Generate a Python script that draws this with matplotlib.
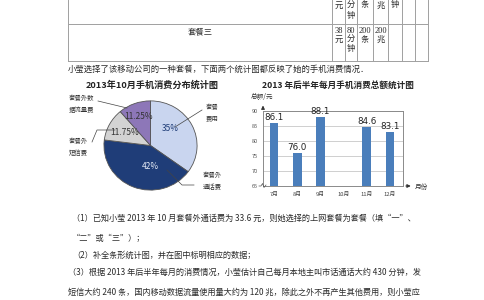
import numpy as np
import matplotlib
matplotlib.use("Agg")
from matplotlib import pyplot as plt
from matplotlib.lines import Line2D

plt.rcParams['font.family'] = ['Noto Sans CJK SC', 'DejaVu Sans']

W, H = 484, 300

# pie chart data
pie_labels = ['套餐\n费用', '套餐外\n通话费', '套餐外\n短信费', '套餐外数\n据流量费']
pie_values = [35, 42, 11.75, 11.25]
pie_pct = ['35%', '42%', '11.75%', '11.25%']
pie_colors = ['#c9d5ef', '#1f3d78', '#d3d3d3', '#8d77b8']

# bar chart data (10月 is left blank in the question)
months = ['7月', '8月', '9月', '10月', '11月', '12月']
totals = [86.1, 76.0, 88.1, np.nan, 84.6, 83.1]
yticks = [65, 70, 75, 80, 85, 90]

# text of the page
row_name = '套餐三'
row_cells = ['38\n元', '80\n分\n钟', '200\n条', '200\n兆']
top_cells = ['元', '分\n钟', '条', '兆']
intro = '小莹选择了该移动公司的一种套餐，下面两个统计图都反映了她的手机消费情况．'
questions = [
    '（1）已知小莹 2013 年 10 月套餐外通话费为 33.6 元，则她选择的上网套餐为套餐（填“一”、',
    '“二”或“三”）；',
    '（2）补全条形统计图，并在图中标明相应的数据；',
    '（3）根据 2013 年后半年每月的消费情况，小莹估计自己每月本地主叫市话通话大约 430 分钟，发',
    '短信大约 240 条，国内移动数据流量使用量大约为 120 兆，除此之外不再产生其他费用，则小莹应',
]


def fx(px):
    return px / W


def fy(py):
    return 1 - py / H


fig = plt.figure(figsize=(4.84, 3.0), dpi=100)
fig.patch.set_facecolor('white')

txt_color = '#2a2a2a'
line_color = '#a0a0a0'

# ---- table fragment at the top ----
for x in [68, 332, 345, 357, 373, 388, 402, 415, 428]:
    fig.add_artist(Line2D([fx(x), fx(x)], [fy(0), fy(61)], color=line_color, lw=0.7))
for y in [24, 61]:
    fig.add_artist(Line2D([fx(68), fx(428)], [fy(y), fy(y)], color=line_color, lw=0.7))

cell_x = [338.5, 351, 365, 380.5]
for cx, t in zip(cell_x, top_cells):
    fig.text(fx(cx), fy(0.5), t, ha='center', va='top', fontsize=6, color=txt_color,
             linespacing=1.15)
fig.text(fx(395), fy(0.5), '钟', ha='center', va='top', fontsize=6, color=txt_color)
for cx, t in zip(cell_x, row_cells):
    fig.text(fx(cx), fy(27), t, ha='center', va='top', fontsize=6, color=txt_color,
             linespacing=1.15, family=['Liberation Serif', 'Noto Sans CJK SC'])
fig.text(fx(200), fy(32), row_name, ha='center', va='center', fontsize=6, color=txt_color)

fig.text(fx(68), fy(69), intro, ha='left', va='center', fontsize=6, color=txt_color)

# ---- pie chart ----
fig.text(fx(152), fy(85), '2013年10月手机消费分布统计图', ha='center', va='center',
         fontsize=6.6, fontweight='bold', color='#222222')

ax1 = fig.add_axes([fx(103), fy(191), fx(198) - fx(103), fy(100) - fy(191)])
wedges, _ = ax1.pie(pie_values, colors=pie_colors, startangle=90, counterclock=False,
                    wedgeprops=dict(edgecolor='#555555', linewidth=0.6))
ax1.set_xlim(-1.02, 1.02)
ax1.set_ylim(-1.02, 1.02)
ax1.set_aspect('auto')
ax1.axis('off')

pct_pos = [(0.42, 0.38), (0.0, -0.48), (-0.55, 0.3), (-0.25, 0.64)]
pct_col = ['#1f3d78', '#e6ecf7', '#333333', '#333333']
for (px, py), t, c in zip(pct_pos, pie_pct, pct_col):
    ax1.text(px, py, t, ha='center', va='center', fontsize=6, color=c)

lab_pos = [(212, 113), (212, 181), (78, 147), (82, 104)]
leaders = [
    [(175, 127), (202, 110)],
    [(167, 170), (182, 185), (194, 185)],
    [(115, 130), (97, 130), (92, 142)],
    [(127, 108), (98, 101)],
]
for (lx, ly), pts, t in zip(lab_pos, leaders, pie_labels):
    fig.text(fx(lx), fy(ly), t, ha='center', va='center', fontsize=4.6, color='#333333',
             linespacing=1.6)
    fig.add_artist(Line2D([fx(p[0]) for p in pts], [fy(p[1]) for p in pts],
                          color='#444444', lw=0.5))

# ---- bar chart ----
fig.text(fx(338), fy(85), '2013 年后半年每月手机消费总额统计图', ha='center', va='center',
         fontsize=6.2, fontweight='bold', color='#222222')

ax2 = fig.add_axes([fx(263), fy(186), fx(403) - fx(263), fy(111) - fy(186)])
xpos = np.arange(len(months))
ax2.bar(xpos, totals, width=0.38, color='#4a7ebb', bottom=0, zorder=3)
for xp, v in zip(xpos, totals):
    if not np.isnan(v):
        ax2.text(xp, v + 0.3, f'{v:.1f}', ha='center', va='bottom', fontsize=6.3,
                 color='#222222', family='DejaVu Sans')
ax2.set_ylim(65, 90)
ax2.set_xlim(-0.47, 5.56)
ax2.set_yticks(yticks)
ax2.set_yticklabels([str(v) for v in yticks], fontsize=4, color='#555555')
ax2.set_xticks(xpos)
ax2.set_xticklabels(months, fontsize=4.2, color='#444444')
ax2.tick_params(length=0, pad=4)
ax2.grid(axis='y', color='#c8c8c8', lw=0.6, zorder=0)
for s in ax2.spines.values():
    s.set_color('#8a8a8a')
    s.set_linewidth(0.7)

# axis arrows
ax2.annotate('', xy=(1.075, 0), xytext=(1.0, 0), xycoords='axes fraction',
             arrowprops=dict(arrowstyle='-|>', color='#333333', lw=0.7,
                             mutation_scale=5), annotation_clip=False)
ax2.annotate('', xy=(0, 1.11), xytext=(0, 1.0), xycoords='axes fraction',
             arrowprops=dict(arrowstyle='-|>', color='#333333', lw=0.7,
                             mutation_scale=5), annotation_clip=False)
# small axis-break zigzag near the origin
fig.add_artist(Line2D([fx(259), fx(261), fx(262.5), fx(264), fx(266)],
                      [fy(186), fy(186), fy(183.5), fy(187.5), fy(185)],
                      color='#555555', lw=0.5))
fig.text(fx(421), fy(187), '月份', ha='center', va='center', fontsize=4.8, color='#333333')
fig.text(fx(262), fy(97), '总额/元', ha='center', va='center', fontsize=4.8, color='#333333')

# ---- questions ----
q_y = [218, 238, 255, 272, 292]
q_x = [72, 72, 72, 68, 68]
for x, y, t in zip(q_x, q_y, questions):
    fig.text(fx(x), fy(y), t, ha='left', va='center', fontsize=5.9, color=txt_color)

fig.savefig('out.png', dpi=100, facecolor='white')
